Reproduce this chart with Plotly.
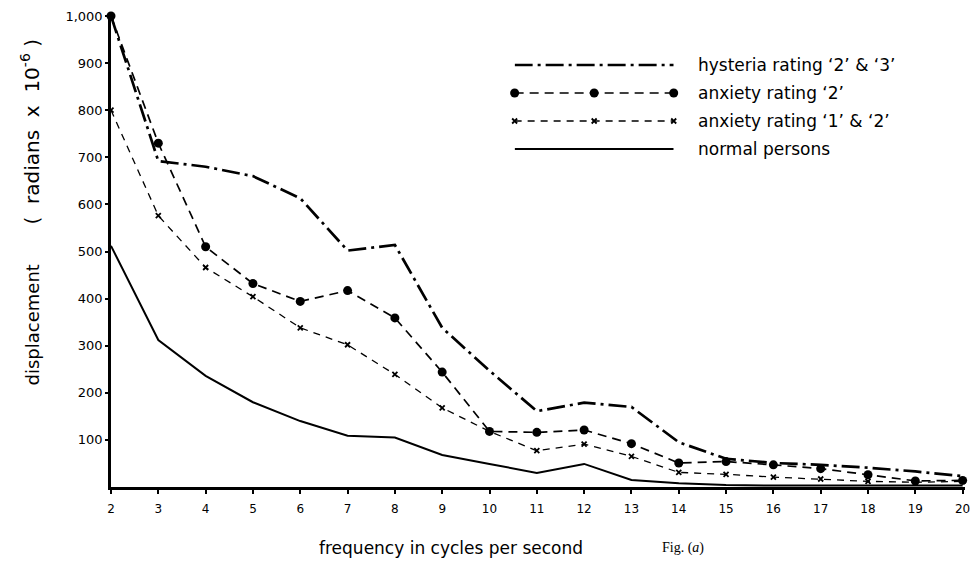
import plotly.graph_objects as go

freq = list(range(2, 21))
hysteria = [1000, 692, 680, 660, 613, 502, 514, 338, 247, 161, 179, 170, 95, 60, 51, 47, 41, 33, 23]
anxiety2 = [1000, 730, 510, 432, 394, 417, 359, 244, 118, 116, 121, 92, 51, 54, 47, 39, 26, 13, 14]
anxiety12 = [800, 576, 466, 404, 338, 302, 239, 168, 118, 77, 91, 65, 31, 27, 21, 17, 12, 10, 12]
normal = [512, 312, 236, 180, 140, 109, 105, 68, 49, 30, 49, 15, 8, 4, 3, 3, 3, 3, 3]

series_names = ["hysteria rating ‘2’ & ‘3’", "anxiety rating ‘2’", "anxiety rating ‘1’ & ‘2’", "normal persons"]
y_tickvals = [100, 200, 300, 400, 500, 600, 700, 800, 900, 1000]
y_ticktext = ["100", "200", "300", "400", "500", "600", "700", "800", "900", "1,000"]

FONT = "DejaVu Sans"
W, H = 979, 562
ML, MR, MT, MB = 111, 9, 16, 75
PW, PH = W - ML - MR, H - MT - MB


def px(x):
    return (x - ML) / PW


def py(y):
    return (H - MB - y) / PH


styles = [
    dict(line=dict(color="black", width=2.7, dash="18px,5px,3px,5px"), mode="lines", marker=None),
    dict(line=dict(color="black", width=1.7, dash="9px,6px"), mode="lines+markers",
         marker=dict(symbol="circle", size=9, color="black")),
    dict(line=dict(color="black", width=1.3, dash="7px,6px"), mode="lines+markers",
         marker=dict(symbol="x-thin", size=5, color="black", line=dict(width=1.8, color="black"))),
    dict(line=dict(color="black", width=2.0), mode="lines", marker=None),
]

fig = go.Figure()
for name, ys, st in zip(series_names, [hysteria, anxiety2, anxiety12, normal], styles):
    kw = dict(x=freq, y=ys, name=name, mode=st["mode"], line=st["line"], showlegend=False,
              cliponaxis=False)
    if st["marker"]:
        kw["marker"] = st["marker"]
    fig.add_trace(go.Scatter(**kw))

# hand-drawn style legend on a hidden helper axis
leg_x = [0, 0.5, 1]
leg_rows_px = [65, 93, 121, 149]
for i, (name, st) in enumerate(zip(series_names, styles)):
    row = i + 1
    kw = dict(x=leg_x, y=[row] * 3, mode=st["mode"], line=st["line"], xaxis="x2", yaxis="y2",
              showlegend=False, hoverinfo="skip", cliponaxis=False)
    if st["marker"]:
        kw["marker"] = st["marker"]
    fig.add_trace(go.Scatter(**kw))
    fig.add_annotation(x=px(699), y=py(leg_rows_px[i]), xref="paper", yref="paper", text=name,
                       showarrow=False, xanchor="left", yanchor="middle",
                       font=dict(family=FONT, size=17, color="black"))

fig.update_layout(
    width=W, height=H,
    margin=dict(l=ML, r=MR, t=MT, b=MB),
    paper_bgcolor="white", plot_bgcolor="white",
    font=dict(family=FONT, color="black"),
    xaxis=dict(range=[2, 20.05], tickvals=freq, ticktext=[str(f) for f in freq],
               showgrid=False, zeroline=False, showline=True, linecolor="black", linewidth=2.5,
               ticks="outside", ticklen=4, tickwidth=1.5, tickcolor="black", ticklabelstandoff=5,
               tickfont=dict(family=FONT, size=12, color="black")),
    yaxis=dict(range=[0, 1000], tickvals=y_tickvals, ticktext=y_ticktext,
               showgrid=False, zeroline=False, showline=True, linecolor="black", linewidth=2.5,
               ticks="outside", ticklen=3, tickwidth=1.5, tickcolor="black",
               tickfont=dict(family=FONT, size=13, color="black")),
    xaxis2=dict(domain=[px(517), px(677)], range=[0, 1], visible=False, anchor="y2"),
    yaxis2=dict(domain=[py(163), py(51)], range=[4.5, 0.5], visible=False, anchor="x2"),
)

fig.add_annotation(x=px(453), y=py(548), xref="paper", yref="paper",
                   text="frequency in cycles per second", showarrow=False,
                   xanchor="center", yanchor="middle", font=dict(family=FONT, size=17, color="black"))
fig.add_annotation(x=px(32), y=py(325), xref="paper", yref="paper",
                   text="displacement", textangle=-90, showarrow=False,
                   xanchor="center", yanchor="middle", font=dict(family=FONT, size=18, color="black"))
fig.add_annotation(x=px(30), y=py(132), xref="paper", yref="paper",
                   text="(  radians  x  10<sup>-6</sup> )", textangle=-90, showarrow=False,
                   xanchor="center", yanchor="middle", font=dict(family=FONT, size=20, color="black"))
fig.add_annotation(x=px(686), y=py(548), xref="paper", yref="paper",
                   text="Fig. (<i>a</i>)", showarrow=False, xanchor="center", yanchor="middle",
                   font=dict(family="Liberation Serif", size=14, color="black"))

fig.write_html("out.html")
